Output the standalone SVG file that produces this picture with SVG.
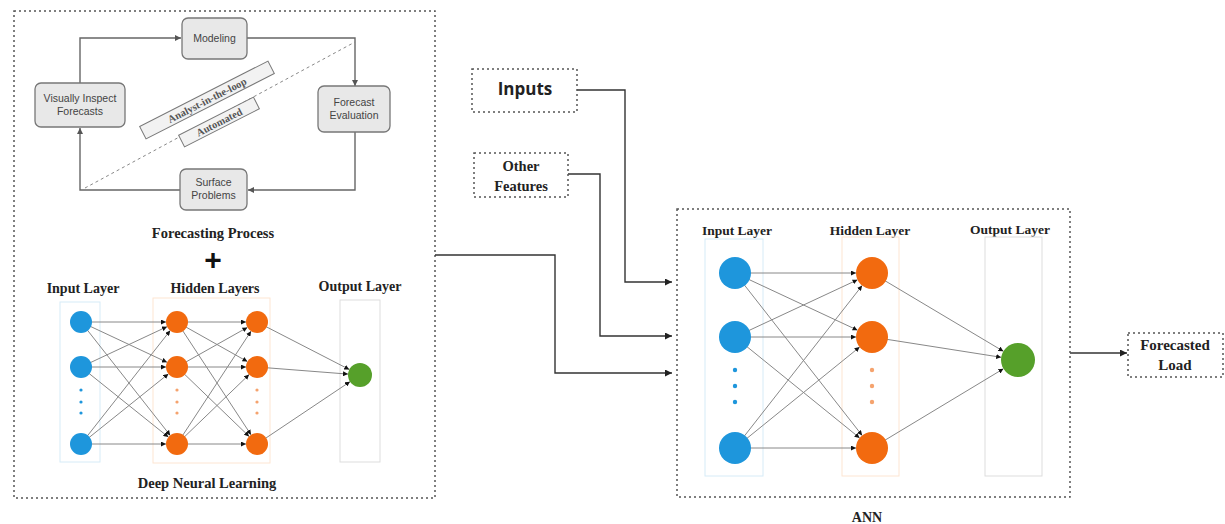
<svg xmlns="http://www.w3.org/2000/svg" width="1225" height="524" viewBox="0 0 1225 524">
<defs>
<marker id="ah" viewBox="0 0 10 10" refX="10" refY="5" markerWidth="7" markerHeight="7" markerUnits="userSpaceOnUse" orient="auto"><path d="M0,0 L10,5 L0,10 z" fill="#222"/></marker>
<marker id="ahs" viewBox="0 0 10 10" refX="10" refY="5" markerWidth="5" markerHeight="5" markerUnits="userSpaceOnUse" orient="auto"><path d="M0,0 L10,5 L0,10 z" fill="#111"/></marker>
<marker id="ahp" viewBox="0 0 10 10" refX="10" refY="5" markerWidth="6" markerHeight="6" markerUnits="userSpaceOnUse" orient="auto"><path d="M0,0 L10,5 L0,10 z" fill="#555"/></marker>
</defs>
<style>
.frame{fill:none;stroke:#555;stroke-width:1.5;stroke-dasharray:2 3}
.pbox{fill:#e8e8e8;stroke:#777;stroke-width:1.3}
.ptxt{font-family:"Liberation Sans",Arial,sans-serif;font-size:10.5px;fill:#444;text-anchor:middle}
.loop{fill:none;stroke:#666;stroke-width:1.4}
.lbl{font-family:"Liberation Serif","Times New Roman",serif;font-weight:bold;fill:#222;text-anchor:middle}
.conn{fill:none;stroke:#333;stroke-width:1.4}
.edge{stroke:#888;stroke-width:1}
.blue{fill:#1e96dc}
.orange{fill:#f26a0f}
.odot{fill:#f5a36e}
.green{fill:#56a02a}
.lrect{fill:none;stroke-width:1}
.rtxt{font-family:"Liberation Serif","Times New Roman",serif;font-size:10.5px;font-weight:bold;fill:#555;text-anchor:middle}
</style>
<rect width="1225" height="524" fill="#fff"/>

<g id="forecasting-frame"><rect class="frame" x="14" y="11" width="421" height="487"/></g>

<g id="connectors">
<path class="loop" d="M80,83 V38 H181" marker-end="url(#ahp)"/>
<path class="loop" d="M247,38 H355 V86" marker-end="url(#ahp)"/>
<path class="loop" d="M355,132 V190 H248" marker-end="url(#ahp)"/>
<path class="loop" d="M180,190 H80 V128" marker-end="url(#ahp)"/>
<path d="M85,188 L355,42" stroke="#888" stroke-width="1" stroke-dasharray="3 3" fill="none"/>
<path class="conn" d="M435,255 H555 V373 H672" marker-end="url(#ah)"/>
<path class="conn" d="M577,90 H625 V282 H672" marker-end="url(#ah)"/>
<path class="conn" d="M568,174 H600 V336 H672" marker-end="url(#ah)"/>
<path class="conn" d="M1070,353 H1127" marker-end="url(#ah)"/>
</g>

<g id="modeling"><rect class="pbox" x="182" y="18" width="65" height="41" rx="6"/><text class="ptxt" x="214.5" y="42">Modeling</text></g>
<g id="visually-inspect"><rect class="pbox" x="35" y="83" width="90" height="44" rx="6"/><text class="ptxt" x="80" y="102">Visually Inspect</text><text class="ptxt" x="80" y="115">Forecasts</text></g>
<g id="forecast-evaluation"><rect class="pbox" x="318" y="86" width="72" height="46" rx="6"/><text class="ptxt" x="354" y="106">Forecast</text><text class="ptxt" x="354" y="119">Evaluation</text></g>
<g id="surface-problems"><rect class="pbox" x="180" y="169" width="67" height="41" rx="6"/><text class="ptxt" x="213.5" y="186">Surface</text><text class="ptxt" x="213.5" y="199">Problems</text></g>
<g id="analysis-in-the-loop" transform="translate(207,100) rotate(-27)"><rect x="-72" y="-7" width="144" height="14" fill="#f2f2f2" stroke="#777" stroke-width="1"/><text class="rtxt" x="0" y="3.8">Analyst-in-the-loop</text></g>
<g id="automated" transform="translate(219,122) rotate(-27)"><rect x="-42" y="-6.5" width="84" height="13" fill="#f2f2f2" stroke="#777" stroke-width="1"/><text class="rtxt" x="0" y="3.8">Automated</text></g>
<g id="forecasting-process-label"><text class="lbl" x="213" y="238" font-size="14.5">Forecasting Process</text><text x="213" y="270" font-family="'Liberation Sans',Arial,sans-serif" font-weight="bold" font-size="30" fill="#111" text-anchor="middle">+</text></g>

<g id="dnn">
<text class="lbl" x="83" y="293" font-size="14">Input Layer</text>
<text class="lbl" x="215" y="293" font-size="14">Hidden Layers</text>
<text class="lbl" x="360" y="291" font-size="14">Output Layer</text>
<text class="lbl" x="207" y="488" font-size="14.5">Deep Neural Learning</text>
<rect class="lrect" x="60" y="302" width="40" height="160" stroke="#d6ebf7"/>
<rect class="lrect" x="153" y="298" width="117" height="165" stroke="#fde5d2"/>
<rect class="lrect" x="340" y="300" width="40" height="162" stroke="#dddddd"/>
<g class="edge" marker-end="url(#ahs)">
<line x1="81" y1="322" x2="166" y2="322"/><line x1="81" y1="322" x2="167" y2="362.3"/><line x1="81" y1="322" x2="170.2" y2="435.4"/>
<line x1="81" y1="367" x2="167" y2="326.7"/><line x1="81" y1="367" x2="166" y2="367"/><line x1="81" y1="367" x2="168.4" y2="437.1"/>
<line x1="81" y1="444" x2="170.2" y2="330.6"/><line x1="81" y1="444" x2="168.4" y2="373.9"/><line x1="81" y1="444" x2="166" y2="444"/>
<line x1="177" y1="322" x2="246" y2="322"/><line x1="177" y1="322" x2="247.4" y2="361.6"/><line x1="177" y1="322" x2="251" y2="434.8"/>
<line x1="177" y1="367" x2="247.4" y2="327.4"/><line x1="177" y1="367" x2="246" y2="367"/><line x1="177" y1="367" x2="249.1" y2="436.4"/>
<line x1="177" y1="444" x2="251" y2="331.2"/><line x1="177" y1="444" x2="249.1" y2="374.6"/><line x1="177" y1="444" x2="246" y2="444"/>
<line x1="257" y1="322" x2="349.3" y2="369.5"/><line x1="257" y1="367" x2="348" y2="374.1"/><line x1="257" y1="444" x2="350" y2="381.7"/>
</g>
<g class="blue"><circle cx="81" cy="322" r="11"/><circle cx="81" cy="367" r="11"/><circle cx="81" cy="444" r="11"/><circle cx="81" cy="390" r="1.6"/><circle cx="81" cy="402" r="1.6"/><circle cx="81" cy="413" r="1.6"/></g>
<g class="orange"><circle cx="177" cy="322" r="11"/><circle cx="177" cy="367" r="11"/><circle cx="177" cy="444" r="11"/>
<circle cx="257" cy="322" r="11"/><circle cx="257" cy="367" r="11"/><circle cx="257" cy="444" r="11"/></g>
<g class="odot"><circle cx="177" cy="390" r="1.6"/><circle cx="177" cy="402" r="1.6"/><circle cx="177" cy="413" r="1.6"/><circle cx="257" cy="390" r="1.6"/><circle cx="257" cy="402" r="1.6"/><circle cx="257" cy="413" r="1.6"/></g>
<circle class="green" cx="360" cy="375" r="12"/>
</g>

<g id="inputs"><rect class="frame" x="472" y="69" width="105" height="43"/><text x="525" y="95" font-family="'Open Sans','Liberation Sans',sans-serif" font-weight="bold" font-size="17" fill="#222" text-anchor="middle">Inputs</text></g>
<g id="other-features"><rect class="frame" x="474" y="153" width="94" height="44"/><text class="lbl" x="521" y="171" font-size="14.5">Other</text><text class="lbl" x="521" y="191" font-size="14.5">Features</text></g>

<g id="ann">
<rect class="frame" x="677" y="209" width="393" height="288"/>
<text class="lbl" x="737" y="235" font-size="13.5">Input Layer</text>
<text class="lbl" x="870" y="235" font-size="13.5">Hidden Layer</text>
<text class="lbl" x="1010" y="234" font-size="13.5">Output Layer</text>
<text class="lbl" x="867" y="522" font-size="14">ANN</text>
<rect class="lrect" x="705" y="239" width="58" height="237" stroke="#d6ebf7"/>
<rect class="lrect" x="842" y="237" width="57" height="239" stroke="#fde5d2"/>
<rect class="lrect" x="985" y="237" width="57" height="239" stroke="#dddddd"/>
<g class="edge" marker-end="url(#ahs)">
<line x1="735" y1="273" x2="856" y2="273"/><line x1="735" y1="273" x2="857.5" y2="330.2"/><line x1="735" y1="273" x2="862.1" y2="435.4"/>
<line x1="735" y1="337" x2="857.5" y2="279.8"/><line x1="735" y1="337" x2="856" y2="337"/><line x1="735" y1="337" x2="859.6" y2="437.9"/>
<line x1="735" y1="448" x2="862.1" y2="285.6"/><line x1="735" y1="448" x2="859.6" y2="347.1"/><line x1="735" y1="448" x2="856" y2="448"/>
<line x1="872" y1="273" x2="1003.4" y2="351.3"/><line x1="872" y1="337" x2="1001.2" y2="357.3"/><line x1="872" y1="448" x2="1003.4" y2="368.8"/>
</g>
<g class="blue"><circle cx="735" cy="273" r="16"/><circle cx="735" cy="337" r="16"/><circle cx="735" cy="448" r="16"/><circle cx="735" cy="370" r="2.2"/><circle cx="735" cy="386" r="2.2"/><circle cx="735" cy="402" r="2.2"/></g>
<g class="orange"><circle cx="872" cy="273" r="16"/><circle cx="872" cy="337" r="16"/><circle cx="872" cy="448" r="16"/></g>
<g class="odot"><circle cx="872" cy="370" r="2.2"/><circle cx="872" cy="386" r="2.2"/><circle cx="872" cy="402" r="2.2"/></g>
<circle class="green" cx="1018" cy="360" r="17"/>
</g>

<g id="forecasted-load"><rect class="frame" x="1128" y="333" width="95" height="44"/><text class="lbl" x="1175" y="350" font-size="15">Forecasted</text><text class="lbl" x="1175" y="370" font-size="15">Load</text></g>
</svg>
